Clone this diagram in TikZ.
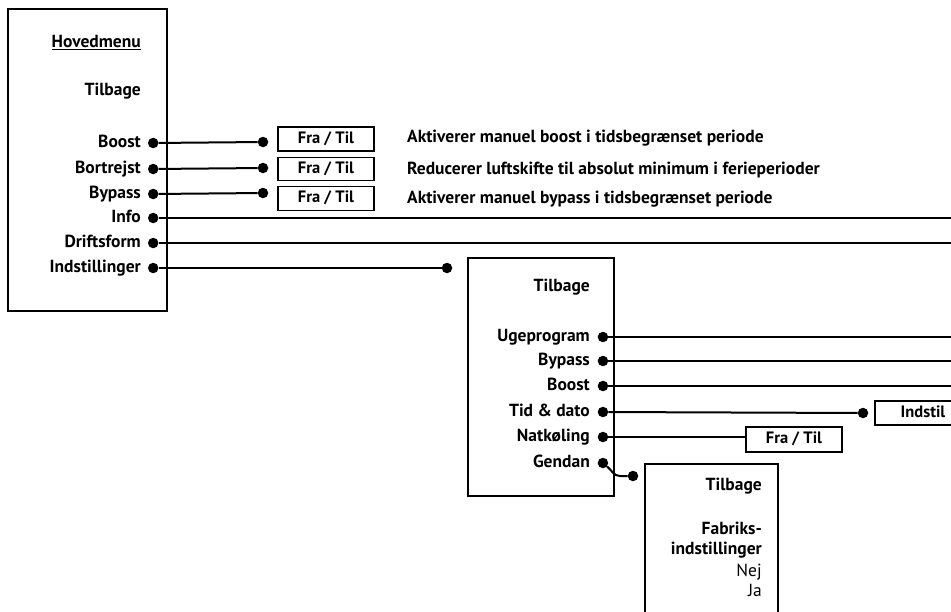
\documentclass[tikz,border=0pt]{standalone}
\usepackage{fontspec}
\setmainfont{PT Sans}
\usepackage{tikz}
\usetikzlibrary{positioning,calc}
\tikzstyle{menubox} = [rectangle, draw, line width=1.8pt, inner sep=0pt]
\tikzstyle{item} = [anchor=east, inner sep=0pt, text height=13pt, text depth=4pt, font=\bfseries\fontsize{17.5}{20}\selectfont]
\tikzstyle{desc} = [item, anchor=west]
\tikzstyle{port} = [circle, fill, inner sep=0pt, minimum size=10.5pt]
\tikzstyle{valbox} = [rectangle, draw, line width=1.8pt, minimum width=96pt, minimum height=24pt, inner sep=0pt, text height=12pt, text depth=4pt, font=\bfseries\fontsize{16.5}{19}\selectfont]
\tikzstyle{wire} = [line width=2pt]

\begin{document}
\begin{tikzpicture}[x=1pt, y=-1pt]
\useasboundingbox (0,0) rectangle (951,611);
% Hovedmenu
\node[menubox, minimum width=159pt, minimum height=302pt] (mainmenu) at (87.5,160) {};
\node[item] (hoved) at (141,43) {\underline{Hovedmenu}};
\node[item] (back1) at (141,91) {Tilbage};
\node[item] (boost) at (141,143) {Boost};
\node[item] (bortrejst) at (141,169) {Bortrejst};
\node[item] (bypass) at (141,194) {Bypass};
\node[item] (info) at (141,218) {Info};
\node[item] (drift) at (141,243) {Driftsform};
\node[item] (indst) at (141,268) {Indstillinger};
\node[port, right=6.75pt of boost] (boost-p) {};
\node[port, right=6.75pt of bortrejst] (bortrejst-p) {};
\node[port, right=6.75pt of bypass] (bypass-p) {};
\node[port, right=6.75pt of info] (info-p) {};
\node[port, right=6.75pt of drift] (drift-p) {};
\node[port, right=6.75pt of indst] (indst-p) {};

% Fra / Til
\node[port] (boost-q) at (263,142) {};
\node[port] (bortrejst-q) at (263,168) {};
\node[port] (bypass-q) at (263,193) {};
\node[valbox] (boostbox) at (326,139) {Fra / Til};
\node[valbox, minimum height=23pt] (bortrejstbox) at (326,169) {Fra / Til};
\node[valbox] (bypassbox) at (326,198.5) {Fra / Til};
\node[desc] (boostdesc) at (407,138) {Aktiverer manuel boost i tidsbegrænset periode};
\node[desc] (bortrejstdesc) at (407,170) {Reducerer luftskifte til absolut minimum i ferieperioder};
\node[desc] (bypassdesc) at (407,199) {Aktiverer manuel bypass i tidsbegrænset periode};
\coordinate (info-end) at (960,218);
\coordinate (drift-end) at (960,243);
\draw[wire] (boost-p) -- (boost-q);
\draw[wire] (bortrejst-p) -- (bortrejst-q);
\draw[wire] (bypass-p) -- (bypass-q);
\draw[wire] (info-p) -- (info-end);
\draw[wire] (drift-p) -- (drift-end);

% Indstillinger
\node[port] (indst-q) at (447,268) {};
\draw[wire] (indst-p) -- (indst-q);
\node[menubox, minimum width=146pt, minimum height=238pt] (setmenu) at (541,377) {};
\node[item] (back2) at (590,287) {Tilbage};
\node[item] (uge) at (590,337) {Ugeprogram};
\node[item] (bypass2) at (590,361) {Bypass};
\node[item] (boost2) at (590,386) {Boost};
\node[item] (tid) at (590,412) {Tid \& dato};
\node[item] (nat) at (590,437) {Natkøling};
\node[item] (gendan) at (590,463) {Gendan};
\node[port, right=7.5pt of uge] (uge-p) {};
\node[port, right=7.5pt of bypass2] (bypass2-p) {};
\node[port, right=7.5pt of boost2] (boost2-p) {};
\node[port, right=7.5pt of tid] (tid-p) {};
\node[port, right=7.5pt of nat] (nat-p) {};
\node[port, right=7.5pt of gendan] (gendan-p) {};
\coordinate (uge-end) at (960,337);
\coordinate (bypass2-end) at (960,361);
\coordinate (boost2-end) at (960,386);
\draw[wire] (uge-p) -- (uge-end);
\draw[wire] (bypass2-p) -- (bypass2-end);
\draw[wire] (boost2-p) -- (boost2-end);
\node[port] (tid-q) at (863,413) {};
\node[valbox] (tidbox) at (923,413) {Indstil};
\draw[wire] (tid-p) -- (tid-q);
\node[valbox, minimum height=25pt] (natbox) at (794,439.5) {Fra / Til};
\draw[wire] (nat-p) -- (nat-p -| natbox.west);

% Gendan
\node[port] (gendan-q) at (633,476) {};
\coordinate (gendan-k) at (620,476);
\draw[wire] (gendan-p) to[out=-40,in=180] (gendan-k) -- (gendan-q);
\node[menubox, minimum width=133pt, minimum height=240pt] (resetmenu) at (711.5,584) {};
\node[item] (back3) at (762,486) {Tilbage};
\node[item] (fabriks) at (762,530) {Fabriks-};
\node[item] (fabriks2) at (762,550) {indstillinger};
\node[item, font=\fontsize{17.5}{20}\selectfont] (nej) at (762,572) {Nej};
\node[item, font=\fontsize{17.5}{20}\selectfont] (ja) at (762,592) {Ja};
\end{tikzpicture}
\end{document}
